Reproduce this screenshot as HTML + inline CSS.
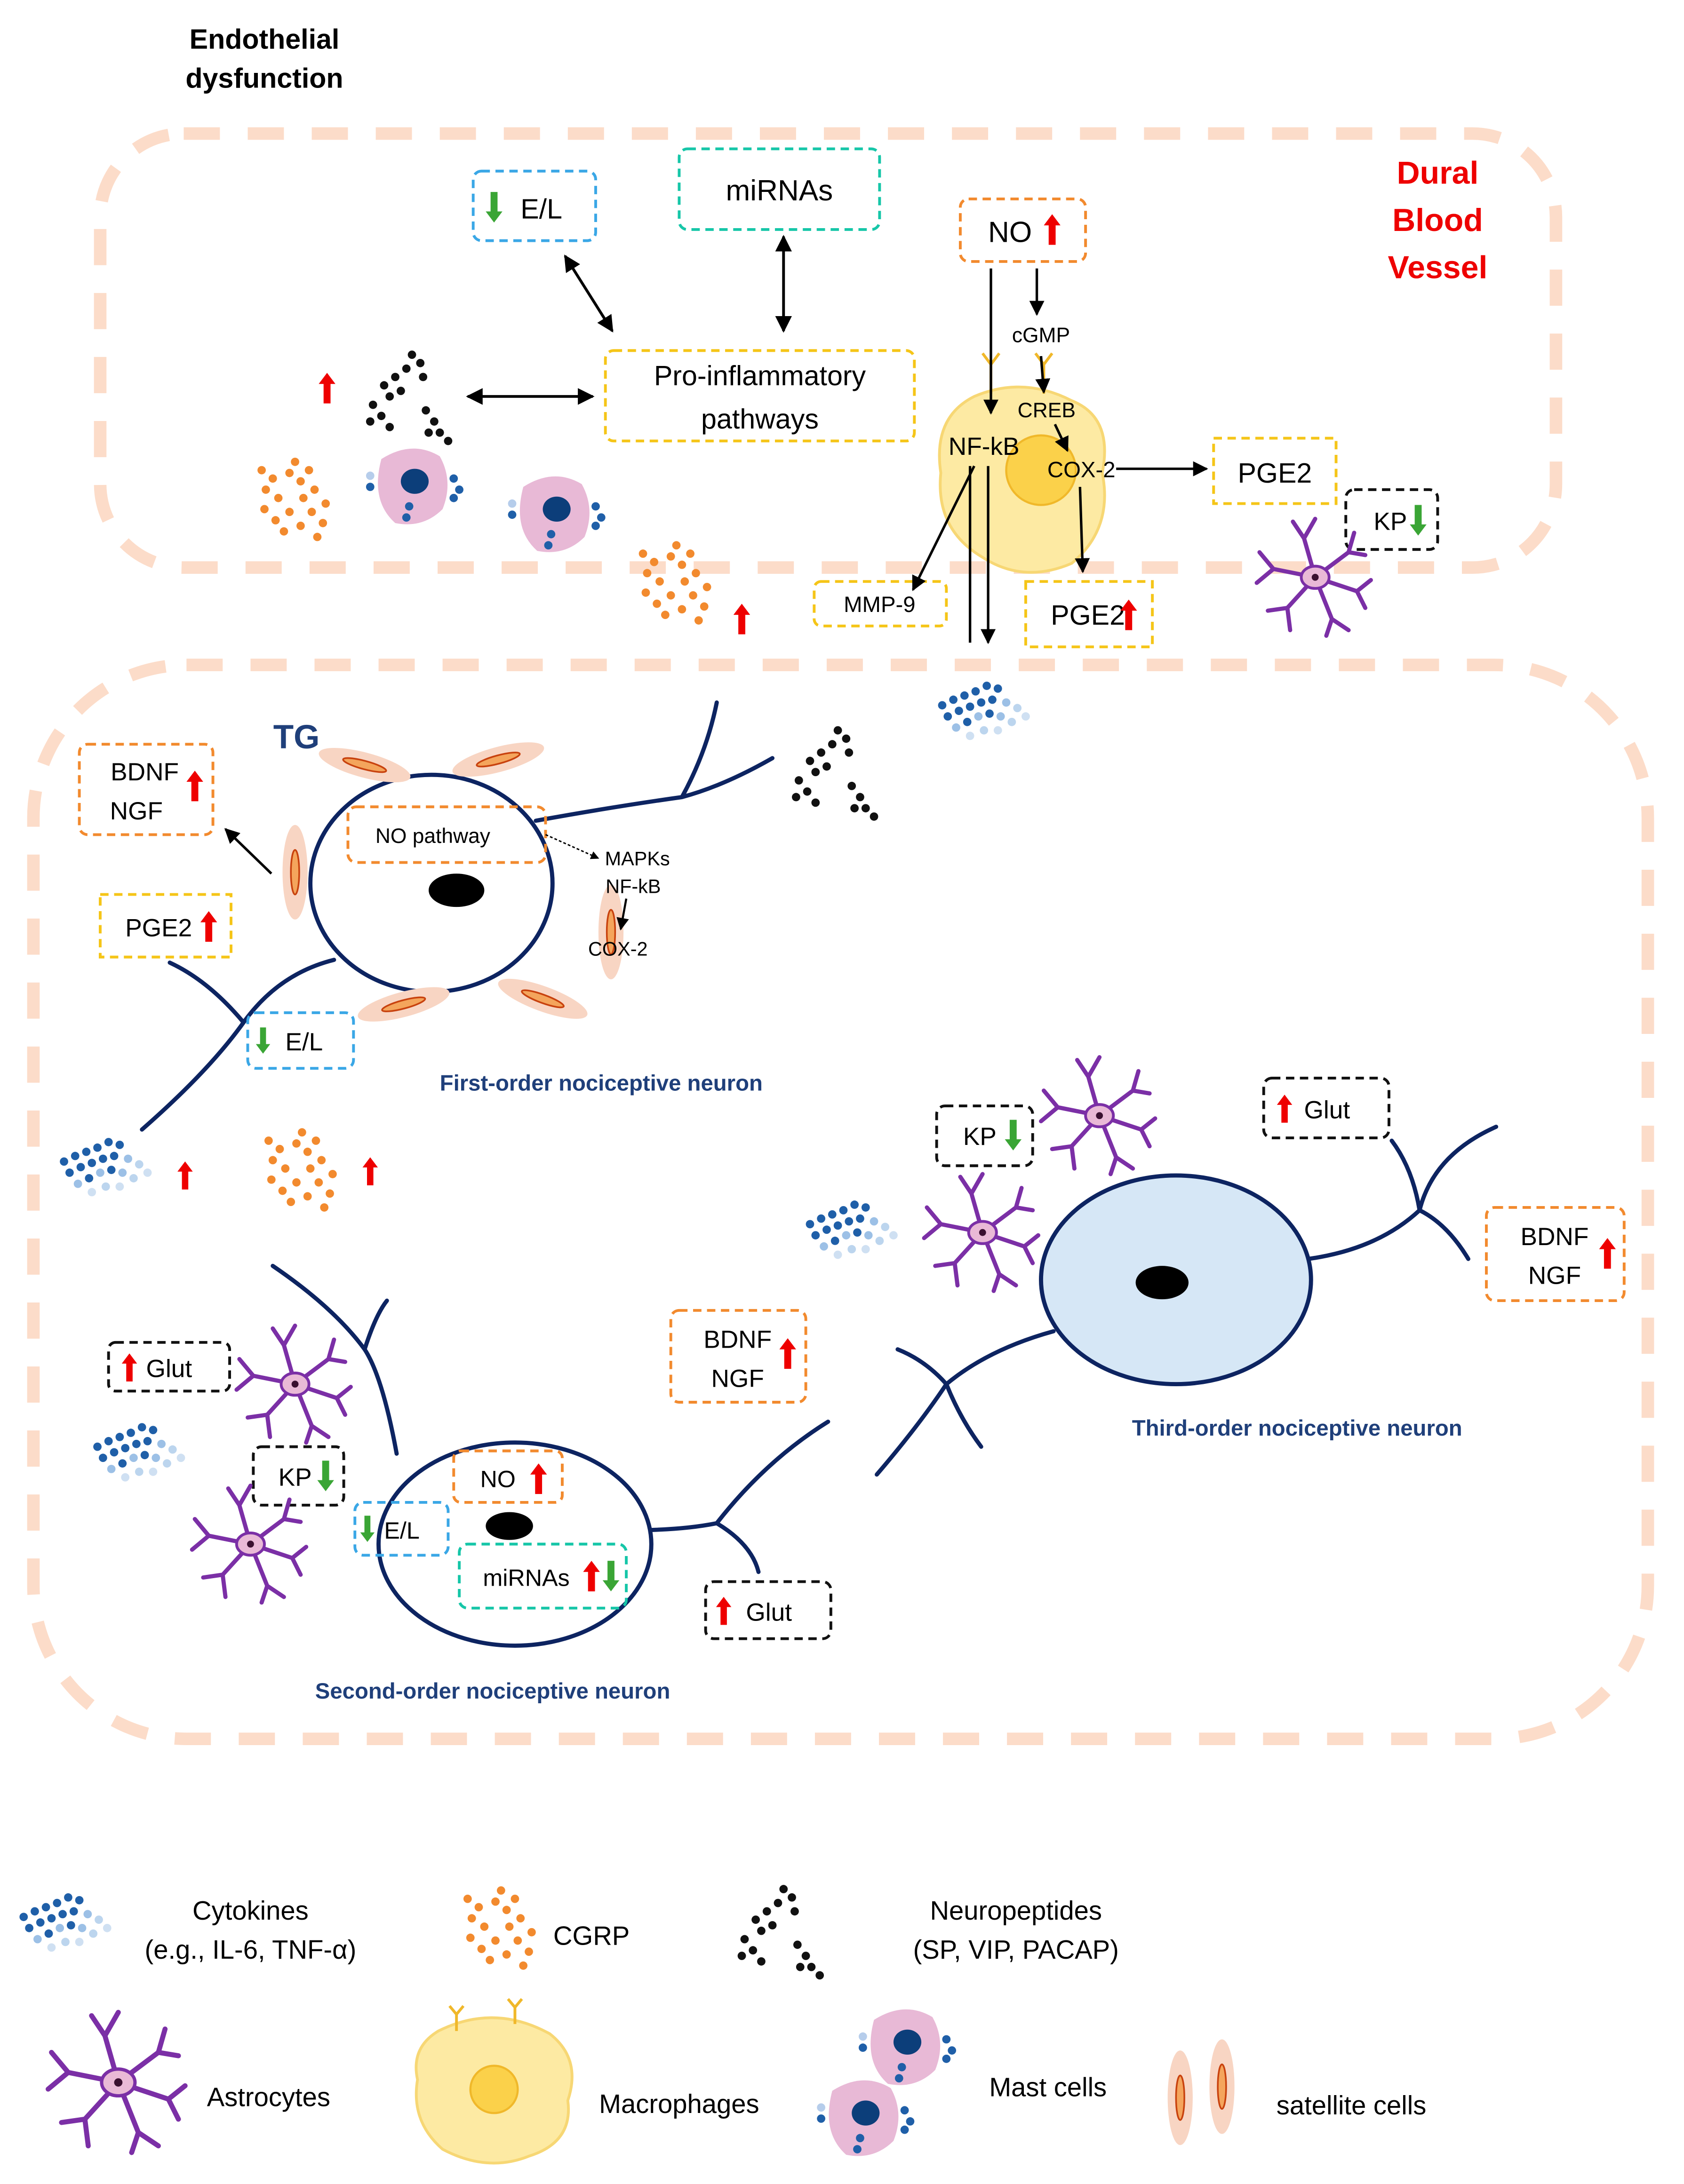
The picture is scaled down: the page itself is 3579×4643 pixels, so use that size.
<!DOCTYPE html>
<html><head><meta charset="utf-8"><style>
html,body{margin:0;padding:0;background:#fff;}
svg{display:block;}
text{font-family:"Liberation Sans",sans-serif;}
</style></head><body>
<svg width="3579" height="4643" viewBox="0 0 1210 1570" preserveAspectRatio="none" xmlns="http://www.w3.org/2000/svg">
<defs>
<marker id="ah" viewBox="0 0 10 10" refX="9" refY="5" markerWidth="6" markerHeight="6" orient="auto-start-reverse"><path d="M0,0 L10,5 L0,10 z" fill="#000"/></marker>
<symbol id="up" viewBox="-7 -12 14 24" overflow="visible"><polygon points="0,-11 6,-3 2.5,-3 2.5,11 -2.5,11 -2.5,-3 -6,-3" fill="#e00"/></symbol>
<symbol id="dn" viewBox="-7 -12 14 24" overflow="visible"><polygon points="0,11 6,3 2.5,3 2.5,-11 -2.5,-11 -2.5,3 -6,3" fill="#3aa535"/></symbol>
<g id="astro" stroke="#7b2fa6" stroke-width="3" fill="none" stroke-linecap="round">
<path d="M0,0 L-8,-28 M-8,-28 L-16,-40 M-8,-28 L0,-42"/>
<path d="M0,0 L24,-18 M24,-18 L36,-16 M24,-18 L28,-32"/>
<path d="M0,0 L30,10 M30,10 L40,2 M30,10 L36,22"/>
<path d="M0,0 L12,30 M12,30 L24,38 M12,30 L8,42"/>
<path d="M0,0 L-20,22 M-20,22 L-34,24 M-20,22 L-18,38"/>
<path d="M0,0 L-30,-6 M-30,-6 L-40,-18 M-30,-6 L-42,4"/>
<ellipse cx="0" cy="0" rx="10" ry="8" fill="#e9b9d6" stroke="#7b2fa6" stroke-width="2"/>
<circle cx="0" cy="0" r="2.5" fill="#3a1030" stroke="none"/>
</g>
<g id="cyto">
<circle cx="0" cy="10" r="3" fill="#1f5fa8"/><circle cx="8" cy="6" r="3" fill="#1f5fa8"/><circle cx="16" cy="3" r="3" fill="#1f5fa8"/><circle cx="24" cy="0" r="3" fill="#1f5fa8"/><circle cx="32" cy="-4" r="3" fill="#1f5fa8"/><circle cx="40" cy="-2" r="3" fill="#1f5fa8"/>
<circle cx="4" cy="18" r="3" fill="#1f5fa8"/><circle cx="12" cy="14" r="3" fill="#1f5fa8"/><circle cx="20" cy="11" r="3" fill="#1f5fa8"/><circle cx="28" cy="8" r="3" fill="#1f5fa8"/><circle cx="36" cy="6" r="3" fill="#1f5fa8"/><circle cx="46" cy="8" r="3" fill="#9cc0e6"/><circle cx="54" cy="12" r="3" fill="#bcd5ee"/>
<circle cx="10" cy="26" r="3" fill="#9cc0e6"/><circle cx="18" cy="22" r="3" fill="#1f5fa8"/><circle cx="26" cy="18" r="3" fill="#9cc0e6"/><circle cx="34" cy="16" r="3" fill="#1f5fa8"/><circle cx="42" cy="18" r="3" fill="#9cc0e6"/><circle cx="50" cy="22" r="3" fill="#bcd5ee"/>
<circle cx="20" cy="32" r="3" fill="#cfe0f2"/><circle cx="30" cy="28" r="3" fill="#bcd5ee"/><circle cx="40" cy="28" r="3" fill="#cfe0f2"/><circle cx="60" cy="18" r="3" fill="#cfe0f2"/>
</g>
<g id="cgrp" fill="#f28a2e">
<circle cx="0" cy="0" r="3"/><circle cx="8" cy="6" r="3"/><circle cx="3" cy="14" r="3"/><circle cx="12" cy="20" r="3"/><circle cx="20" cy="2" r="3"/><circle cx="28" cy="8" r="3"/><circle cx="24" cy="-6" r="3"/><circle cx="34" cy="0" r="3"/><circle cx="38" cy="14" r="3"/>
<circle cx="2" cy="28" r="3"/><circle cx="10" cy="36" r="3"/><circle cx="20" cy="30" r="3"/><circle cx="28" cy="40" r="3"/><circle cx="36" cy="30" r="3"/><circle cx="44" cy="38" r="3"/><circle cx="46" cy="24" r="3"/><circle cx="16" cy="44" r="3"/><circle cx="40" cy="48" r="3"/><circle cx="30" cy="20" r="3"/>
</g>
<g id="neuro" fill="#111">
<circle cx="30" cy="0" r="3"/><circle cx="36" cy="6" r="3"/><circle cx="26" cy="10" r="3"/><circle cx="38" cy="16" r="3"/><circle cx="18" cy="16" r="3"/><circle cx="10" cy="22" r="3"/><circle cx="22" cy="26" r="3"/><circle cx="14" cy="30" r="3"/>
<circle cx="2" cy="36" r="3"/><circle cx="8" cy="44" r="3"/><circle cx="0" cy="48" r="3"/><circle cx="14" cy="52" r="3"/><circle cx="40" cy="40" r="3"/><circle cx="46" cy="48" r="3"/><circle cx="50" cy="56" r="3"/><circle cx="42" cy="56" r="3"/><circle cx="56" cy="62" r="3"/>
</g>
<g id="mast">
<path d="M-22,-20 Q0,-34 20,-22 Q30,-4 22,16 Q8,30 -12,26 Q-30,10 -22,-20z" fill="#e8b9d6"/>
<ellipse cx="2" cy="-4" rx="10" ry="9" fill="#0c3e7a"/>
<circle cx="-2" cy="14" r="3" fill="#1f5fa8"/><circle cx="-4" cy="22" r="3" fill="#1f5fa8"/>
<circle cx="30" cy="-6" r="3" fill="#1f5fa8"/><circle cx="34" cy="2" r="3" fill="#1f5fa8"/><circle cx="30" cy="8" r="3" fill="#1f5fa8"/>
<circle cx="-30" cy="0" r="3" fill="#1f5fa8"/><circle cx="-30" cy="-8" r="3" fill="#b6cdeb"/>
</g>
<g id="sat"><ellipse cx="0" cy="0" rx="9" ry="34" fill="#f8d5c3"/><ellipse cx="0" cy="0" rx="3" ry="16" fill="#f4a55c" stroke="#c8420e" stroke-width="1.2"/></g>
</defs>

<!-- Title -->
<text x="190" y="35" font-size="20" font-weight="bold" text-anchor="middle">Endothelial</text>
<text x="190" y="63" font-size="20" font-weight="bold" text-anchor="middle">dysfunction</text>

<!-- Dural vessel -->
<rect x="72" y="96" width="1046" height="312" rx="60" fill="none" stroke="#fcdcc9" stroke-width="9" stroke-dasharray="26 20"/>
<text x="1033" y="132" font-size="23" font-weight="bold" fill="#e00" text-anchor="middle">Dural</text>
<text x="1033" y="166" font-size="23" font-weight="bold" fill="#e00" text-anchor="middle">Blood</text>
<text x="1033" y="200" font-size="23" font-weight="bold" fill="#e00" text-anchor="middle">Vessel</text>

<g fill="none" stroke-width="2" stroke-dasharray="6 4">
<rect x="340" y="123" width="88" height="50" rx="6" stroke="#3aa7e6"/>
<rect x="488" y="107" width="144" height="58" rx="6" stroke="#16c6a8"/>
<rect x="690" y="143" width="90" height="45" rx="6" stroke="#f28a2e"/>
<rect x="435" y="252" width="222" height="65" rx="6" stroke="#f5c518"/>
<rect x="872" y="315" width="88" height="47" stroke="#f5c518"/>
<rect x="967" y="352" width="66" height="43" rx="6" stroke="#111"/>
<rect x="585" y="418" width="95" height="32" rx="5" stroke="#f5c518"/>
<rect x="737" y="418" width="91" height="47" stroke="#f5c518"/>
</g>
<use href="#dn" x="348" y="137" width="14" height="24"/>
<text x="374" y="157" font-size="20">E/L</text>
<text x="560" y="144" font-size="21" text-anchor="middle">miRNAs</text>
<text x="710" y="174" font-size="21">NO</text>
<use href="#up" x="749" y="153" width="14" height="24"/>
<text x="546" y="277" font-size="20" text-anchor="middle">Pro-inflammatory</text>
<text x="546" y="308" font-size="20" text-anchor="middle">pathways</text>

<g stroke="#000" stroke-width="2" fill="none">
<line x1="406" y1="184" x2="440" y2="238" marker-start="url(#ah)" marker-end="url(#ah)"/>
<line x1="563" y1="170" x2="563" y2="238" marker-start="url(#ah)" marker-end="url(#ah)"/>
<line x1="336" y1="285" x2="426" y2="285" marker-start="url(#ah)" marker-end="url(#ah)"/>
</g>
<use href="#up" x="228" y="266" width="14" height="26"/>
<use href="#neuro" x="266" y="255"/>
<use href="#cgrp" x="188" y="338"/>
<use href="#mast" x="296" y="350"/>
<use href="#mast" x="398" y="370"/>

<!-- Macrophage -->
<path d="M700,285 Q735,270 770,288 Q800,300 792,340 Q800,380 770,405 Q735,420 705,400 Q672,380 676,340 Q670,300 700,285z" fill="#fdeaa3" stroke="#f7d774" stroke-width="2"/>
<circle cx="748" cy="338" r="25" fill="#fbd14a" stroke="#f0b82a" stroke-width="1.5"/>
<path d="M712,283 L712,262 M712,262 L706,254 M712,262 L718,254 M750,283 L750,262 M750,262 L744,254 M750,262 L756,254" stroke="#f0b82a" stroke-width="2" fill="none"/>
<g stroke="#000" stroke-width="1.8" fill="none">
<line x1="712" y1="193" x2="712" y2="297" marker-end="url(#ah)"/>
<line x1="745" y1="193" x2="745" y2="226" marker-end="url(#ah)"/>
<line x1="748" y1="256" x2="750" y2="282" marker-end="url(#ah)"/>
<line x1="758" y1="305" x2="767" y2="324" marker-end="url(#ah)"/>
<line x1="802" y1="337" x2="867" y2="337" marker-end="url(#ah)"/>
<line x1="700" y1="335" x2="656" y2="424" marker-end="url(#ah)"/>
<line x1="697" y1="335" x2="697" y2="462"/>
<line x1="710" y1="335" x2="710" y2="462" marker-end="url(#ah)"/>
<line x1="776" y1="350" x2="778" y2="411" marker-end="url(#ah)"/>
</g>
<text x="748" y="246" font-size="15" text-anchor="middle">cGMP</text>
<text x="752" y="300" font-size="15" text-anchor="middle">CREB</text>
<text x="707" y="327" font-size="18" text-anchor="middle">NF-kB</text>
<text x="777" y="343" font-size="16" text-anchor="middle">COX-2</text>
<text x="916" y="347" font-size="20" text-anchor="middle">PGE2</text>
<text x="987" y="381" font-size="18">KP</text>
<use href="#dn" x="1012" y="362" width="14" height="24"/>
<use href="#astro" x="945" y="415"/>
<text x="632" y="440" font-size="16" text-anchor="middle">MMP-9</text>
<text x="755" y="449" font-size="20">PGE2</text>
<use href="#up" x="804" y="428" width="14" height="28"/>
<use href="#cgrp" x="462" y="398"/>
<use href="#up" x="526" y="433" width="14" height="24"/>
<use href="#cyto" x="677" y="497"/>

<!-- TG -->
<rect x="24" y="478" width="1160" height="772" rx="110" fill="none" stroke="#fcdcc9" stroke-width="9" stroke-dasharray="26 20"/>
<text x="213" y="538" font-size="24" font-weight="bold" fill="#1f3f7a" text-anchor="middle">TG</text>
<use href="#neuro" x="572" y="525"/>

<g stroke="#0d2461" stroke-width="3" fill="none" stroke-linecap="round">
<path d="M385,590 Q440,580 490,573 Q520,565 555,545 M490,573 Q508,540 515,505"/>
<path d="M240,690 Q200,700 175,735 Q150,770 102,812 M175,735 Q150,705 122,692"/>
<path d="M285,1045 Q275,990 262,970 Q240,940 196,910 M262,970 Q270,945 278,935"/>
<path d="M455,1100 Q490,1100 515,1095 Q550,1050 595,1022 M515,1095 Q540,1110 545,1130"/>
<path d="M757,957 Q710,970 680,995 Q660,1025 630,1060 M680,995 Q665,978 645,970 M680,995 Q690,1020 705,1040"/>
<path d="M940,905 Q990,898 1020,870 Q1030,830 1075,810 M1020,870 Q1040,880 1055,905 M1020,870 Q1015,840 1000,820"/>
</g>
<ellipse cx="310" cy="635" rx="87" ry="78" fill="#fff" stroke="#0d2461" stroke-width="3"/>
<ellipse cx="328" cy="640" rx="20" ry="12" fill="#000"/>
<use href="#sat" transform="translate(262,550) rotate(-75)"/>
<use href="#sat" transform="translate(358,546) rotate(75)"/>
<use href="#sat" transform="translate(212,627)"/>
<use href="#sat" transform="translate(439,670)"/>
<use href="#sat" transform="translate(290,722) rotate(75)"/>
<use href="#sat" transform="translate(390,718) rotate(-70)"/>
<g fill="none" stroke-width="2" stroke-dasharray="6 4">
<rect x="250" y="580" width="142" height="40" rx="6" stroke="#f28a2e"/>
<rect x="57" y="535" width="96" height="65" rx="6" stroke="#f28a2e"/>
<rect x="72" y="643" width="94" height="45" stroke="#f5c518"/>
<rect x="178" y="728" width="76" height="40" rx="6" stroke="#3aa7e6"/>
<rect x="673" y="795" width="69" height="43" rx="6" stroke="#111"/>
<rect x="908" y="775" width="90" height="43" rx="6" stroke="#111"/>
<rect x="1068" y="868" width="99" height="67" rx="6" stroke="#f28a2e"/>
<rect x="78" y="965" width="87" height="35" rx="5" stroke="#111"/>
<rect x="182" y="1040" width="65" height="42" rx="6" stroke="#111"/>
<rect x="482" y="942" width="97" height="66" rx="6" stroke="#f28a2e"/>
<rect x="507" y="1137" width="90" height="41" rx="6" stroke="#111"/>
</g>
<text x="311" y="606" font-size="15" text-anchor="middle">NO pathway</text>
<line x1="392" y1="600" x2="430" y2="617" stroke="#000" stroke-width="1" stroke-dasharray="2 1.5" marker-end="url(#ah)"/>
<text x="458" y="622" font-size="14" text-anchor="middle">MAPKs</text>
<text x="455" y="642" font-size="14" text-anchor="middle">NF-kB</text>
<text x="444" y="687" font-size="14" text-anchor="middle">COX-2</text>
<line x1="450" y1="646" x2="446" y2="668" stroke="#000" stroke-width="1.5" marker-end="url(#ah)"/>
<line x1="195" y1="628" x2="162" y2="596" stroke="#000" stroke-width="1.8" marker-end="url(#ah)"/>
<text x="104" y="561" font-size="18" text-anchor="middle">BDNF</text>
<text x="98" y="589" font-size="18" text-anchor="middle">NGF</text>
<use href="#up" x="133" y="552" width="14" height="26"/>
<text x="90" y="673" font-size="18">PGE2</text>
<use href="#up" x="143" y="654" width="14" height="24"/>
<use href="#dn" x="183" y="737" width="12" height="22"/>
<text x="205" y="755" font-size="18">E/L</text>
<text x="432" y="784" font-size="16" font-weight="bold" fill="#1f3f7a" text-anchor="middle">First-order nociceptive neuron</text>
<use href="#cyto" x="46" y="825"/>
<use href="#up" x="126" y="834" width="14" height="22"/>
<use href="#cgrp" x="193" y="820"/>
<use href="#up" x="259" y="831" width="14" height="22"/>

<!-- third -->
<ellipse cx="845" cy="920" rx="97" ry="75" fill="#d6e7f6" stroke="#0d2461" stroke-width="3"/>
<ellipse cx="835" cy="922" rx="19" ry="12" fill="#000"/>
<text x="692" y="823" font-size="18">KP</text>
<use href="#dn" x="721" y="804" width="14" height="24"/>
<use href="#astro" x="790" y="802"/>
<use href="#astro" x="706" y="886"/>
<use href="#cyto" x="582" y="870"/>
<use href="#up" x="916" y="786" width="14" height="22"/>
<text x="937" y="804" font-size="18">Glut</text>
<text x="1117" y="895" font-size="18" text-anchor="middle">BDNF</text>
<text x="1117" y="923" font-size="18" text-anchor="middle">NGF</text>
<use href="#up" x="1148" y="888" width="14" height="26"/>
<text x="932" y="1032" font-size="16" font-weight="bold" fill="#1f3f7a" text-anchor="middle">Third-order nociceptive neuron</text>

<!-- second -->
<ellipse cx="370" cy="1110" rx="98" ry="73" fill="#fff" stroke="#0d2461" stroke-width="3"/>
<ellipse cx="366" cy="1097" rx="17" ry="10" fill="#000"/>
<g fill="none" stroke-width="2" stroke-dasharray="6 4">
<rect x="326" y="1043" width="78" height="37" rx="5" stroke="#f28a2e"/>
<rect x="255" y="1080" width="67" height="38" rx="6" stroke="#3aa7e6"/>
<rect x="330" y="1110" width="120" height="46" rx="6" stroke="#16c6a8"/>
</g>
<text x="345" y="1069" font-size="17">NO</text>
<use href="#up" x="380" y="1051" width="14" height="24"/>
<use href="#dn" x="258" y="1088" width="12" height="22"/>
<text x="276" y="1106" font-size="17">E/L</text>
<text x="347" y="1140" font-size="17">miRNAs</text>
<use href="#up" x="418" y="1120" width="14" height="26"/>
<use href="#dn" x="432" y="1120" width="14" height="26"/>
<use href="#up" x="86" y="972" width="14" height="22"/>
<text x="105" y="990" font-size="18">Glut</text>
<text x="200" y="1068" font-size="18">KP</text>
<use href="#dn" x="227" y="1048" width="14" height="26"/>
<use href="#astro" x="212" y="995"/>
<use href="#astro" x="180" y="1110"/>
<use href="#cyto" x="70" y="1030"/>
<text x="530" y="969" font-size="18" text-anchor="middle">BDNF</text>
<text x="530" y="997" font-size="18" text-anchor="middle">NGF</text>
<use href="#up" x="559" y="960" width="14" height="26"/>
<use href="#up" x="513" y="1147" width="14" height="22"/>
<text x="536" y="1165" font-size="18">Glut</text>
<text x="354" y="1221" font-size="16" font-weight="bold" fill="#1f3f7a" text-anchor="middle">Second-order nociceptive neuron</text>

<!-- Legend -->
<use href="#cyto" x="17" y="1368"/>
<text x="180" y="1380" font-size="19" text-anchor="middle">Cytokines</text>
<text x="180" y="1408" font-size="19" text-anchor="middle">(e.g., IL-6, TNF-α)</text>
<use href="#cgrp" x="336" y="1365"/>
<text x="425" y="1398" font-size="19" text-anchor="middle">CGRP</text>
<use href="#neuro" x="533" y="1358"/>
<text x="730" y="1380" font-size="19" text-anchor="middle">Neuropeptides</text>
<text x="730" y="1408" font-size="19" text-anchor="middle">(SP, VIP, PACAP)</text>
<use href="#astro" transform="translate(85,1497) scale(1.2)"/>
<text x="193" y="1514" font-size="19" text-anchor="middle">Astrocytes</text>
<path d="M315,1460 Q355,1440 395,1462 Q418,1480 408,1510 Q412,1540 380,1550 Q350,1562 318,1545 Q295,1525 300,1495 Q295,1472 315,1460z" fill="#fdeaa3" stroke="#f7d774" stroke-width="2"/>
<circle cx="355" cy="1502" r="17" fill="#fbd14a" stroke="#f0b82a" stroke-width="1.5"/>
<path d="M328,1460 L328,1448 M328,1448 L323,1442 M328,1448 L333,1442 M370,1455 L370,1443 M370,1443 L365,1437 M370,1443 L375,1437" stroke="#f0b82a" stroke-width="2" fill="none"/>
<text x="488" y="1519" font-size="19" text-anchor="middle">Macrophages</text>
<use href="#mast" x="650" y="1472"/>
<use href="#mast" x="620" y="1523"/>
<text x="753" y="1507" font-size="19" text-anchor="middle">Mast cells</text>
<use href="#sat" x="848" y="1508"/>
<use href="#sat" x="878" y="1500"/>
<text x="971" y="1520" font-size="19" text-anchor="middle">satellite cells</text>
</svg>
</body></html>
